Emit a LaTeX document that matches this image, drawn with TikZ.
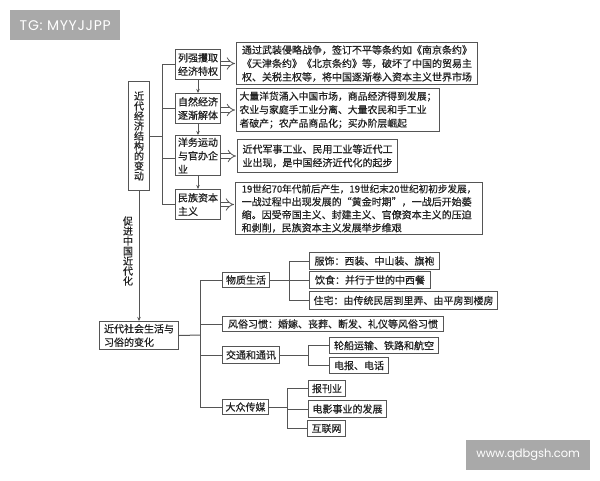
\documentclass[tikz,border=0pt]{standalone}
\usepackage{fontspec}
\setmainfont{Noto Sans CJK SC}[RawFeature={embolden=0.5}]
\newfontfamily\wmfont{Poppins}[LetterSpace=5]
\newfontfamily\wmfontb{Poppins}
\usetikzlibrary{arrows.meta}
\definecolor{ink}{HTML}{222222}
\definecolor{lin}{HTML}{555555}
\definecolor{wm}{HTML}{A9A9A9}
\tikzset{
  box/.style={draw=lin,line width=1pt,fill=white,text=ink,inner sep=0pt,anchor=north west,align=left,
    font=\fontsize{10}{13.5}\selectfont},
  boxb/.style={box,font=\fontsize{9.85}{13.5}\selectfont},
  boxd/.style={box,font=\fontsize{10}{13}\selectfont},
  stackbox/.style={box,align=center,font=\fontsize{10}{10}\selectfont},
  stacktext/.style={text=ink,inner sep=0pt,align=center,font=\fontsize{10}{10}\selectfont},
  wmbox/.style={fill=wm,text=white,inner sep=0pt,anchor=north west},
  link/.style={draw=lin,line width=1pt},
  smallarrow/.style={link,-{Stealth[length=4pt,width=3.5pt]}},
  hollow/.style={draw=lin,line width=0.8pt,double=white,double distance=3.6pt,-{Implies[length=5pt,width=9pt]}}
}
\newcommand{\bx}[7][box]{\node[#1,minimum width=#5 pt-#3 pt,minimum height=#6 pt-#4 pt] (#2) at (#3,#4) {#7};}
\begin{document}
\begin{tikzpicture}[x=1pt,y=-1pt]
\useasboundingbox (0,0) rectangle (600,480);
\fill[white] (0,0) rectangle (600,480);
% watermarks
\node[wmbox,font=\wmfont\fontsize{14}{16}\selectfont,minimum width=110pt,minimum height=30pt] (wmA) at (10,10) {TG: MYYJJPP};
\node[wmbox,font=\wmfontb\fontsize{11.5}{14}\selectfont,minimum width=124pt,minimum height=30pt] (wmB) at (466,440) {www.qdbgsh.com};
% upper part
\bx[stackbox]{L}{128}{81}{149}{190}{近\\代\\经\\济\\结\\构\\的\\变\\动}
\bx{A}{175}{49}{220}{79}{列强攫取\\经济特权}
\bx{B}{175}{93}{220}{123}{自然经济\\逐渐解体}
\bx{C}{175}{135}{220}{175}{洋务运动\\与官办企\\业}
\bx{D}{175}{189}{220}{219}{民族资本\\主义}
\bx{TA}{236}{42}{477}{84}{通过武装侵略战争，签订不平等条约如《南京条约》\\《天津条约》《北京条约》等，破坏了中国的贸易主\\权、关税主权等，将中国逐渐卷入资本主义世界市场}
\bx[boxb]{TB}{236}{88}{439}{131}{大量洋货涌入中国市场，商品经济得到发展；\\农业与家庭手工业分离、大量农民和手工业\\者破产；农产品商品化；买办阶层崛起}
\bx{TC}{237}{139}{397}{172}{近代军事工业、民用工业等近代工\\业出现，是中国经济近代化的起步}
\bx[boxd]{TD}{235}{182}{482}{234}{{\fontsize{9.6}{13}\selectfont 19世纪70年代前后产生，19世纪末20世纪初初步发展，}\\一战过程中出现发展的“黄金时期”，一战后开始萎\\缩。因受帝国主义、封建主义、官僚资本主义的压迫\\和剥削，民族资本主义发展举步维艰}
\node[stacktext] (P) at (128,251) {促\\进\\中\\国\\近\\代\\化};
% lower part
\bx{S}{99}{321}{178}{349}{近代社会生活与\\习俗的变化}
\bx{M}{222}{272}{269}{287}{物质生活}
\bx{F}{222}{316}{443}{331}{风俗习惯：婚嫁、丧葬、断发、礼仪等风俗习惯}
\bx{J}{222}{346}{279}{363}{交通和通讯}
\bx{G}{222}{399}{268}{414}{大众传媒}
\bx{M1}{309}{252}{439}{269}{服饰：西装、中山装、旗袍}
\bx{M2}{309}{271}{430}{288}{饮食：并行于世的中西餐}
\bx{M3}{309}{291}{497}{309}{住宅：由传统民居到里弄、由平房到楼房}
\bx{J1}{329}{337}{438}{353}{轮船运输、铁路和航空}
\bx{J2}{329}{357}{388}{373}{电报、电话}
\bx{G1}{308}{380}{345}{396}{报刊业}
\bx{G2}{308}{400}{386}{417}{电影事业的发展}
\bx{G3}{307}{420}{345}{436}{互联网}
% junctions
\coordinate (tU) at (162,135.5);
\coordinate (tL) at (200,335);
\coordinate (tM) at (289,279.5);
\coordinate (tJ) at (308,354.5);
\coordinate (tG) at (287,406.5);
% upper connectors
\draw[link] (L.east) -- (L.east-|tU);
\draw[link] (A.west) -| (tU);
\draw[link] (D.west) -| (tU);
\draw[link] (B.west) -- (B.west-|tU);
\draw[link] ([yshift=-3pt]C.west) -- ([yshift=-3pt]C.west-|tU);
\draw[smallarrow] (A.south) -- (B.north);
\draw[smallarrow] (B.south) -- (C.north);
\draw[smallarrow] (C.south) -- (D.north);
\draw[hollow] (A.east|-TA.west) -- ([xshift=-1pt]TA.west);
\draw[hollow] (B.east|-TB.west) -- ([xshift=-1pt]TB.west);
\draw[hollow] (C.east|-TC.west) -- ([xshift=-1pt]TC.west);
\draw[hollow] (D.east) -- ([xshift=-1pt]TD.west|-D.east);
\draw[smallarrow] (L.south) -- (L.south|-S.north);
% lower connectors
\draw[link] (S.east) -- (tL);
\draw[link] (M.west) -| (tL);
\draw[link] (G.west) -| (tL);
\draw[link] (F.west) -- (F.west-|tL);
\draw[link] (J.west) -- (J.west-|tL);
\draw[link] (M.east) -- (M.east-|tM);
\draw[link] (M1.west) -| (tM);
\draw[link] (M3.west) -| (tM);
\draw[link] (M.east-|tM) -- (M2.west);
\draw[link] (J.east) -- (J.east-|tJ);
\draw[link] (J1.west) -| (tJ);
\draw[link] (J2.west) -| (tJ);
\draw[link] (G.east) -- (G.east-|tG);
\draw[link] (G1.west) -| (tG);
\draw[link] (G3.west) -| (tG);
\draw[link] (G2.west) -- (G2.west-|tG);
\end{tikzpicture}
\end{document}
